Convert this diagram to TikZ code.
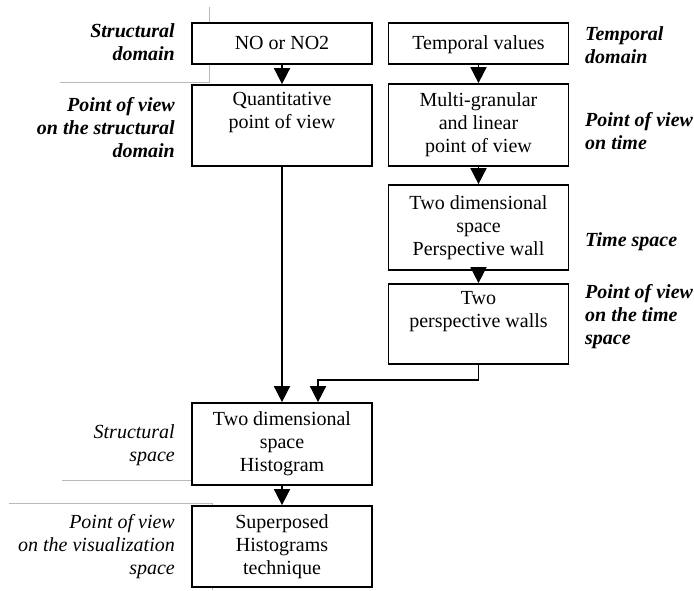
\documentclass[tikz,border=0pt]{standalone}
\usepackage{fontspec}
\setmainfont{Liberation Serif}
\usetikzlibrary{arrows.meta}
\begin{document}
\begin{tikzpicture}[x=1pt,y=-1pt,
  box/.style={draw, line width=1.7pt, fill=white, minimum width=180pt, align=center,
    inner sep=0pt, font=\fontsize{20}{23}\selectfont},
  conn/.style={line width=1.6pt, -{Triangle[width=16pt,length=16pt]}},
  guide/.style={draw=gray!55, line width=0.8pt},
  lbl/.style={align=right, anchor=east, inner sep=0pt, font=\fontsize{20}{23}\selectfont\bfseries\itshape},
  lblplain/.style={align=right, anchor=east, inner sep=0pt, font=\fontsize{20}{23}\selectfont\itshape},
  rlbl/.style={align=left, anchor=west, inner sep=0pt, font=\fontsize{20}{23}\selectfont\bfseries\itshape}]
\useasboundingbox (0,0) rectangle (694,590);
% guide lines
\draw[guide] (209,7) -- (209,82) -- (60,82);
\draw[guide] (62,480) -- (192,480);
\draw[guide] (9,503) -- (212,503) -- (212,590);
% boxes
\node[box, minimum height=41pt, text depth=2pt] (no) at (282,43.5) {NO or NO2};
\node[box, minimum height=41pt, text depth=2pt] (tv) at (478.5,43.5) {Temporal values};
\node[box, minimum height=81pt] (qv) at (282,125.5) {Quantitative\\point of view\\\strut};
\node[box, minimum height=82pt] (mg) at (478.5,125) {Multi-granular\\and linear\\point of view};
\node[box, minimum height=85pt] (ts) at (478.5,227.5) {Two dimensional\\space\\Perspective wall};
\node[box, minimum height=80pt] (pw) at (478.5,324) {Two\\perspective walls\\\strut};
\node[box, minimum height=82pt] (hist) at (282,444) {Two dimensional\\space\\Histogram};
\node[box, minimum height=81pt] (sup) at (282,546.5) {Superposed\\Histograms\\technique};
% connectors
\draw[conn] (no) -- (qv);
\draw[conn] (tv) -- (mg);
\draw[conn] (mg) -- (ts);
\draw[conn] (ts) -- (pw);
\draw[conn] (qv) -- (hist);
\draw[conn] (pw.south) -- ++(0,15) -| ([xshift=36pt]hist.north);
\draw[conn] (hist) -- (sup);
% left labels
\node[lbl] (l1) at (175,42) {Structural\\domain};
\node[lbl] (l2) at (175,128) {Point of view\\on the structural\\domain};
\node[lblplain] (l3) at (175,445) {Structural\\space};
\node[lblplain] (l4) at (175,547) {Point of view\\on the visualization\\space};
% right labels
\node[rlbl] (r1) at (585,45) {Temporal\\domain};
\node[rlbl] (r2) at (585,131) {Point of view\\on time};
\node[rlbl] (r3) at (585,242) {Time space};
\node[rlbl] (r4) at (585,317) {Point of view\\on the time\\space};
\end{tikzpicture}
\end{document}
